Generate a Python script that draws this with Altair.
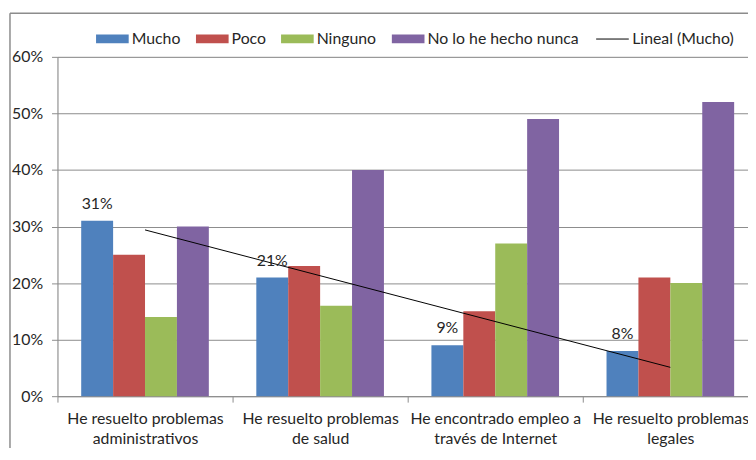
import json
import altair as alt
import pandas as pd

categories = [
    "He resuelto problemas\nadministrativos",
    "He resuelto problemas\nde salud",
    "He encontrado empleo a\ntravés de Internet",
    "He resuelto problemas\nlegales",
]
series = ["Mucho", "Poco", "Ninguno", "No lo he hecho nunca"]
colors = ["#4F81BD", "#C0504D", "#9BBB59", "#8064A2"]
mucho = [0.31, 0.21, 0.09, 0.08]
poco = [0.25, 0.23, 0.15, 0.21]
ninguno = [0.14, 0.16, 0.27, 0.20]
nunca = [0.30, 0.40, 0.49, 0.52]
trend_label = "Lineal (Mucho)"
y_ticks = [0, 0.1, 0.2, 0.3, 0.4, 0.5, 0.6]

rows = []
for s, vals in zip(series, [mucho, poco, ninguno, nunca]):
    for i, (c, v) in enumerate(zip(categories, vals)):
        rows.append({"Categoria": c, "Serie": s, "Valor": v, "idx": i})
df = pd.DataFrame(rows)

FONT = "Lato"
FS = 16
GRAY = "#8C8C8C"
TXT = "#262626"

x_enc = alt.X(
    "Categoria:N",
    scale=alt.Scale(domain=categories, paddingInner=0, paddingOuter=0),
    axis=alt.Axis(
        title=None, labelAngle=0, labelExpr="split(datum.label, '\\n')",
        tickBand="extent", grid=False, tickSize=6, labelPadding=9,
        labelLineHeight=20, labelFontSize=FS, labelColor=TXT, labelFont=FONT,
        domainColor=GRAY, tickColor=GRAY, labelBaseline="top",
    ),
)
y_enc = alt.Y(
    "Valor:Q",
    scale=alt.Scale(domain=[0, 0.6], nice=False),
    axis=alt.Axis(
        title=None, format=".0%", values=y_ticks, tickSize=6, labelPadding=9,
        labelFontSize=FS, labelColor=TXT, labelFont=FONT, domainColor=GRAY,
        tickColor=GRAY, gridColor=GRAY,
    ),
)
xoff = alt.XOffset("Serie:N", scale=alt.Scale(domain=series, paddingInner=0, paddingOuter=0.744))

bars = alt.Chart(df).mark_bar().encode(
    x=x_enc, y=y_enc, xOffset=xoff,
    color=alt.Color(
        "Serie:N", scale=alt.Scale(domain=series, range=colors),
        legend=alt.Legend(
            title=None, orient="none", legendX=39, legendY=-35, direction="horizontal",
            symbolType="M-1,-0.27H1V0.27H-1Z", symbolSize=1089, symbolStrokeWidth=0,
            labelOffset=3, columnPadding=15, labelFontSize=FS, labelFont=FONT,
            labelColor=TXT, padding=0, symbolOpacity=1,
        ),
    ),
)

labels = alt.Chart(df).transform_filter(alt.datum.Serie == "Mucho").mark_text(
    dy=-17, baseline="middle", fontSize=FS, font=FONT, color=TXT
).encode(x=alt.X("Categoria:N"), y="Valor:Q", xOffset=xoff, text=alt.Text("Valor:Q", format=".0%"))

cat_expr = json.dumps(categories, ensure_ascii=False)
trend = (
    alt.Chart(df)
    .transform_filter(alt.datum.Serie == "Mucho")
    .transform_regression("idx", "Valor", extent=[0, 3])
    .transform_calculate(Categoria=f"{cat_expr}[datum.idx]", trend=f"'{trend_label}'")
    .mark_line(strokeWidth=1)
    .encode(
        x=alt.X("Categoria:N"), y="Valor:Q",
        stroke=alt.Stroke(
            "trend:N", scale=alt.Scale(domain=[trend_label], range=["black"]),
            legend=alt.Legend(
                title=None, orient="none", legendX=544, legendY=-35, symbolType="stroke",
                symbolSize=1089, symbolStrokeWidth=1, labelOffset=3, labelFontSize=FS,
                labelFont=FONT, labelColor=TXT, padding=0,
            ),
        ),
    )
)

one = pd.DataFrame({"a": [0]})
frame_left = alt.Chart(one).mark_rule(color=GRAY, strokeWidth=1.5).encode(
    x=alt.value(-48), y=alt.value(-44), y2=alt.value(405)
)
frame_top = alt.Chart(one).mark_rule(color=GRAY, strokeWidth=1.5).encode(
    x=alt.value(-48), x2=alt.value(720), y=alt.value(-44)
)

chart = (
    alt.layer(bars, trend, labels, frame_left, frame_top)
    .properties(
        width=708, height=343,
        autosize=alt.AutoSizeParams(type="none"),
        padding={"left": 50, "top": 47, "right": -10, "bottom": 50},
    )
    .resolve_scale(color="independent")
    .configure_view(stroke=None)
    .configure(font=FONT)
)

chart.save("out.html", embed_options={"renderer": "svg", "actions": False})
